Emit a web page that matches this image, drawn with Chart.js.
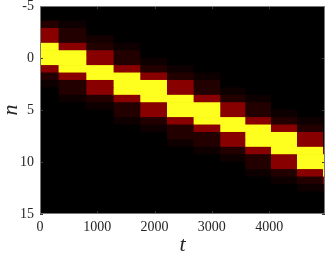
<!DOCTYPE html>
<html>
<head>
<meta charset="utf-8">
<script src="https://cdn.jsdelivr.net/npm/chart.js@4.4.1/dist/chart.umd.min.js"></script>
<style>
  html, body { margin: 0; padding: 0; background: #fff; }
  #wrap { width: 327px; height: 256px; }
</style>
</head>
<body>
<div id="wrap"><canvas id="heat" width="327" height="256"></canvas></div>
<script>
// time bins (column edges, t) and site rows (row centres, n)
const tEdges = [0, 319, 803, 1279, 1745, 2211, 2676, 3141, 3578, 4026, 4480, 4934, 4975];
const nRows = [-4.643, -3.929, -3.214, -2.5, -1.786, -1.071, -0.357, 0.357, 1.071, 1.786,
  2.5, 3.214, 3.929, 4.643, 5.357, 6.071, 6.786, 7.5, 8.214, 8.929,
  9.643, 10.357, 11.071, 11.786, 12.5, 13.214, 13.929, 14.643];
const tTicks = [0, 1000, 2000, 3000, 4000];
const nTicks = [-5, 0, 5, 10, 15];

// intensity per time bin, one value per row (0..1 on the hot colormap)
const density = [
  [0, 0, .05, .2, .2, .78, .78, .78, .2, .05, .02, 0, 0, 0, 0, 0, 0, 0, 0, 0, 0, 0, 0, 0, 0, 0, 0, 0],
  [0, 0, .02, .05, .05, .2, .78, .78, .78, .2, .05, .05, .02, 0, 0, 0, 0, 0, 0, 0, 0, 0, 0, 0, 0, 0, 0, 0],
  [0, 0, 0, 0, .03, .05, .2, .2, .78, .78, .2, .2, .05, .02, 0, 0, 0, 0, 0, 0, 0, 0, 0, 0, 0, 0, 0, 0],
  [0, 0, 0, 0, 0, .02, .05, .05, .2, .78, .78, .78, .2, .05, .05, .02, 0, 0, 0, 0, 0, 0, 0, 0, 0, 0, 0, 0],
  [0, 0, 0, 0, 0, 0, 0, .02, .05, .2, .78, .78, .78, .2, .2, .05, .02, 0, 0, 0, 0, 0, 0, 0, 0, 0, 0, 0],
  [0, 0, 0, 0, 0, 0, 0, 0, .02, .05, .2, .2, .78, .78, .78, .2, .05, .05, .02, 0, 0, 0, 0, 0, 0, 0, 0, 0],
  [0, 0, 0, 0, 0, 0, 0, 0, 0, .02, .05, .05, .2, .78, .78, .78, .2, .05, .05, .02, 0, 0, 0, 0, 0, 0, 0, 0],
  [0, 0, 0, 0, 0, 0, 0, 0, 0, 0, 0, .02, .05, .2, .2, .78, .78, .2, .2, .05, .02, 0, 0, 0, 0, 0, 0, 0],
  [0, 0, 0, 0, 0, 0, 0, 0, 0, 0, 0, 0, .02, .05, .05, .2, .78, .78, .78, .2, .05, .05, .02, 0, 0, 0, 0, 0],
  [0, 0, 0, 0, 0, 0, 0, 0, 0, 0, 0, 0, 0, 0, .02, .05, .2, .78, .78, .78, .2, .2, .05, .02, 0, 0, 0, 0],
  [0, 0, 0, 0, 0, 0, 0, 0, 0, 0, 0, 0, 0, 0, 0, .02, .05, .2, .2, .78, .78, .78, .2, .05, .02, 0, 0, 0],
  [0, 0, 0, 0, 0, 0, 0, 0, 0, 0, 0, 0, 0, 0, 0, 0, 0, 0, .05, .2, .78, .78, .78, .2, .05, 0, 0, 0]
];

// brief bright flash at each bin change: rows (index into nRows) per inner edge, and its level
const flashRows = [[6, 7], [8], [9], [10, 11], [12], [13, 14], [15], [16], [17, 18], [19], [20, 21]];
const flashLevel = 0.95;
const flashSpan = 28; // in t

function hot(v) {
  const r = Math.min(1, v / 0.375);
  const g = Math.max(0, Math.min(1, (v - 0.375) / 0.375));
  const b = Math.max(0, Math.min(1, (v - 0.75) / 0.25));
  return `rgb(${Math.round(r * 255)},${Math.round(g * 255)},${Math.round(b * 255)})`;
}

const barStyle = { borderWidth: 0, grouped: false, barPercentage: 1, categoryPercentage: 1 };

const cellSets = density.map((col, k) => ({
  data: nRows.map((n) => ({ y: n, x: [tEdges[k], tEdges[k + 1]] })),
  backgroundColor: col.map(hot),
  ...barStyle
}));

const flashSets = flashRows.map((rows, i) => ({
  data: rows.map((r) => ({
    y: nRows[r],
    x: [tEdges[i + 1] - flashSpan / 2, tEdges[i + 1] + flashSpan / 2]
  })),
  backgroundColor: hot(flashLevel),
  ...barStyle
}));

const axisFrame = {
  id: "axisFrame",
  beforeDatasetsDraw(chart) {
    const { ctx, chartArea: a } = chart;
    ctx.save();
    ctx.fillStyle = "#000";
    ctx.fillRect(a.left, a.top, a.right - a.left, a.bottom - a.top);
    ctx.restore();
  },
  afterDraw(chart) {
    const { ctx, chartArea: a, scales } = chart;
    const len = 3;
    ctx.save();
    ctx.strokeStyle = "#3a3a3a";
    ctx.lineWidth = 1;
    ctx.beginPath();
    tTicks.forEach((t) => {
      const x = Math.round(scales.x.getPixelForValue(t)) + 0.5;
      ctx.moveTo(x, a.bottom); ctx.lineTo(x, a.bottom - len);
      ctx.moveTo(x, a.top); ctx.lineTo(x, a.top + len);
    });
    nTicks.forEach((n) => {
      const y = Math.round(scales.y.getPixelForValue(n)) + 0.5;
      ctx.moveTo(a.left, y); ctx.lineTo(a.left + len, y);
      ctx.moveTo(a.right, y); ctx.lineTo(a.right - len, y);
    });
    ctx.stroke();
    ctx.strokeStyle = "#777";
    ctx.strokeRect(Math.round(a.left) + 0.5, Math.round(a.top) + 0.5,
      Math.round(a.right - a.left) - 1, Math.round(a.bottom - a.top) - 1);
    ctx.restore();
  }
};

Chart.defaults.font.family = "'Liberation Serif', 'DejaVu Serif', serif";
Chart.defaults.color = "#262626";

new Chart(document.getElementById("heat").getContext("2d"), {
  type: "bar",
  data: { datasets: [...cellSets, ...flashSets] },
  options: {
    indexAxis: "y",
    responsive: false,
    animation: false,
    layout: { padding: { top: 6, right: 2, left: 0, bottom: 0 } },
    plugins: { legend: { display: false }, tooltip: { enabled: false } },
    scales: {
      x: {
        type: "linear",
        min: 0,
        max: 4975,
        offset: false,
        grid: { display: false, drawTicks: false },
        border: { display: false },
        afterBuildTicks: (s) => { s.ticks = tTicks.map((v) => ({ value: v })); },
        afterFit: (s) => { s.height = 42; s.paddingLeft = 0; s.paddingRight = 0; },
        ticks: { padding: 5, font: { size: 14 }, callback: (v) => String(v) },
        title: {
          display: true,
          text: "t",
          font: { size: 22, style: "italic" },
          padding: { top: 0, bottom: -2 }
        }
      },
      y: {
        type: "linear",
        reverse: true,
        min: -5,
        max: 15,
        offset: false,
        grid: { display: false, drawTicks: false },
        border: { display: false },
        afterBuildTicks: (s) => { s.ticks = nTicks.map((v) => ({ value: v })); },
        afterFit: (s) => { s.width = 40; s.paddingTop = 0; s.paddingBottom = 0; },
        ticks: { padding: 6, font: { size: 14 }, callback: (v) => String(v) },
        title: {
          display: true,
          text: "n",
          font: { size: 22, style: "italic" },
          padding: { top: -2, bottom: 0 }
        }
      }
    }
  },
  plugins: [axisFrame]
});
</script>
</body>
</html>
